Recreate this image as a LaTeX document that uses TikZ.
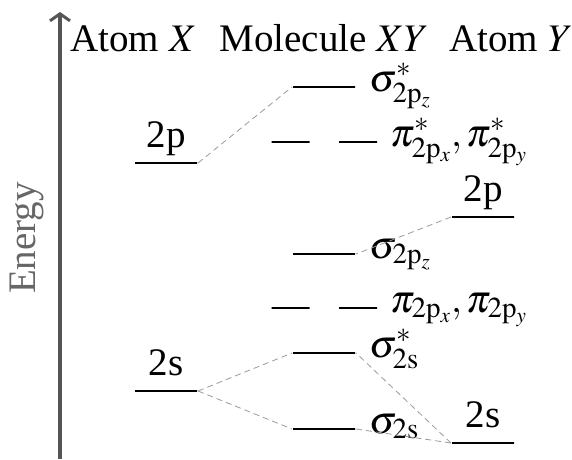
\documentclass[tikz,border=0pt]{standalone}
\usepackage{mathptmx}
\usepackage[no-math]{fontspec}
\setmainfont{Liberation Serif}
\DeclareMathSizes{39}{39}{29}{21}
\usetikzlibrary{arrows.meta, positioning}
\definecolor{AxisGray}{HTML}{555555}
\definecolor{LabelGray}{HTML}{666666}
\definecolor{LinkGray}{HTML}{9A9A9A}

\begin{document}
\begin{tikzpicture}[
            x=1pt, y=1pt,
            every node/.style = {font=\fontsize{39}{46}\selectfont},
            level/.style = {draw, line width=2pt, minimum width=62pt, minimum height=0pt, inner sep=0pt},
            pilevel/.style = {level, minimum width=38pt},
            ao/.style = {anchor=base, inner sep=0pt},
            mo/.style = {anchor=base west, inner sep=0pt},
            link/.style = {draw=LinkGray, line width=0.8pt, dash pattern=on 6pt off 4pt},
            axis/.style = {draw=AxisGray, line width=3.5pt, -{Straight Barb[length=7pt, width=20pt, line width=3pt]}}
        ]
            \useasboundingbox (0,0) rectangle (572,459);

            % energy axis
            \coordinate (bottom) at (60,0);
            \coordinate (top) at (60,447);
            \draw [axis] (bottom) -- (top);
            \node [anchor=base, rotate=90, inner sep=0pt, text=LabelGray] (energy) at (35,221) {Energy};

            % column titles
            \node [ao] (titlex) at (133.5,407) {Atom $X$};
            \node [ao] (titlexy) at (324,407) {Molecule $XY$};
            \node [ao] (titley) at (511,407) {Atom $Y$};

            % atom X
            \node [level] (xp) at (166,296) {};
            \node [level] (xs) at (166,68) {};
            \node [ao] (xpl) at ([yshift=15pt]xp.north) {2p};
            \node [ao] (xsl) at ([yshift=15pt]xs.north) {2s};

            % atom Y
            \node [level] (yp) at (483,242) {};
            \node [level] (ys) at (483,16) {};
            \node [ao] (ypl) at ([yshift=15pt]yp.north) {2p};
            \node [ao] (ysl) at ([yshift=15pt]ys.north) {2s};

            % molecule XY
            \node [level] (spzs) at (324,372) {};
            \node [pilevel] (pixs) at (290.5,317) {};
            \node [pilevel] (piys) at (358,317) {};
            \node [level] (spz) at (324,205) {};
            \node [pilevel] (pix) at (290.5,151) {};
            \node [pilevel] (piy) at (358,151) {};
            \node [level] (sss) at (324,106) {};
            \node [level] (ss) at (324,30) {};

            \node [mo] (spzsl) at ([xshift=13pt, yshift=-4pt]spzs.east) {$\sigma^*_{2\mathrm{p}_z}$};
            \node [mo] (pisl) at ([xshift=12pt, yshift=-4pt]piys.east) {$\pi^*_{2\mathrm{p}_x},\pi^*_{2\mathrm{p}_y}$};
            \node [mo] (spzl) at ([xshift=13pt, yshift=-4pt]spz.east) {$\sigma_{2\mathrm{p}_z}$};
            \node [mo] (pil) at ([xshift=12pt, yshift=-4pt]piy.east) {$\pi_{2\mathrm{p}_x},\pi_{2\mathrm{p}_y}$};
            \node [mo] (sssl) at ([xshift=13pt, yshift=-4pt]sss.east) {$\sigma^*_{2\mathrm{s}}$};
            \node [mo] (ssl) at ([xshift=13pt, yshift=-4pt]ss.east) {$\sigma_{2\mathrm{s}}$};

            % correlation lines
            \draw [link] (xp.east) -- (spzs.west);
            \draw [link] (yp.west) -- (spz.east);
            \draw [link] (xs.east) -- (sss.west);
            \draw [link] (xs.east) -- (ss.west);
            \draw [link] (ys.west) -- (sss.east);
            \draw [link] (ys.west) -- (ss.east);
        \end{tikzpicture}
\end{document}
